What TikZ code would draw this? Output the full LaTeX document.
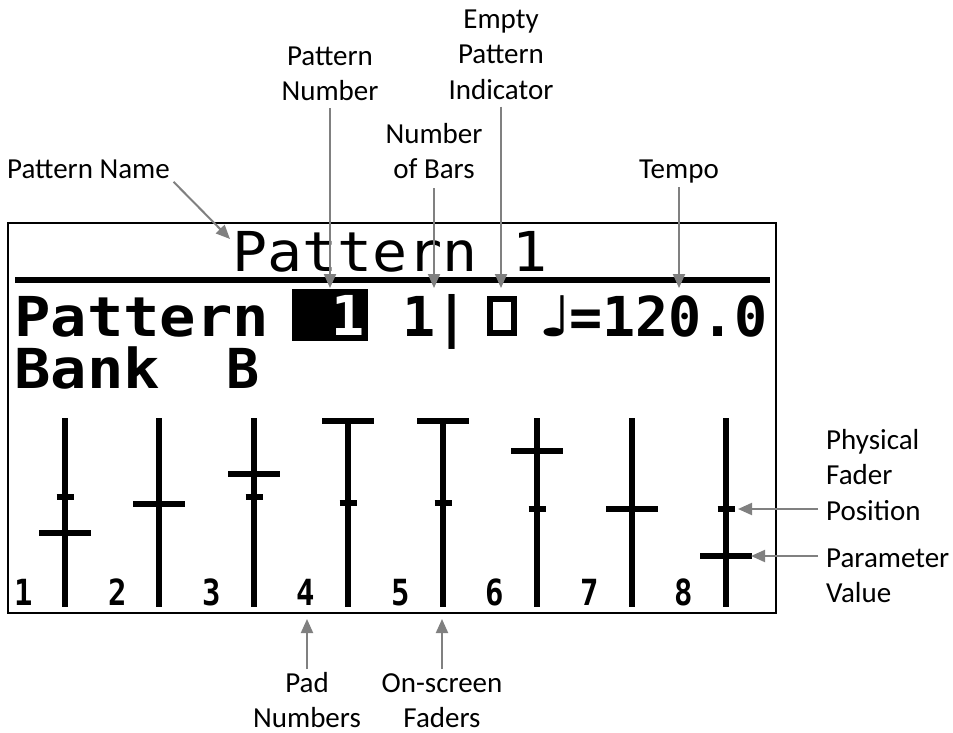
\documentclass[tikz,border=0pt]{standalone}
\usepackage{fontspec}
\setmainfont{Carlito}
\newfontfamily\lcdfont{DejaVu Sans Mono}
\newfontfamily\notefont{DejaVu Sans}
\usetikzlibrary{arrows.meta}
\definecolor{arrgray}{RGB}{128,128,128}
\newcommand{\lblstrut}{\rule{0pt}{24pt}}
\begin{document}
\begin{tikzpicture}[x=1pt,y=-1pt,
  ann/.style={inner sep=0pt, font=\fontsize{29}{35.5}\selectfont, align=center, anchor=north},
  annl/.style={ann, align=left, anchor=north west},
  arr/.style={draw=arrgray, line width=2pt, -{Triangle[length=14pt,width=12pt]}},
  lcdthin/.style={inner sep=0pt, anchor=base west, font=\lcdfont\fontsize{55}{60}\selectfont},
  lcdbold/.style={inner sep=0pt, anchor=base west, font=\lcdfont\bfseries\fontsize{55}{60}\selectfont},
  padnum/.style={inner sep=0pt, anchor=base, font=\lcdfont\bfseries\fontsize{36}{40}\selectfont},
  rail/.style={line width=6pt},
  knob/.style={line width=6pt},
]
\useasboundingbox (0,0) rectangle (953,732);

% display frame
\draw[line width=1.5pt] (8,223) rectangle (776,613);

% title and separator
\node[lcdthin] (title) at (232,271) {\scalebox{1.06}[1]{Pattern 1}};
\draw[line width=6pt] (15,280) -- (770,280);

% second row
\node[lcdbold] (rowpat) at (14,336) {\scalebox{1.1}[1]{Pattern}};
\node[fill=black, inner sep=0pt, minimum width=76pt, minimum height=52pt] (pnbox) at (330,315) {};
\node[lcdbold, anchor=base, text=white] (pnnum) at (348,335) {1};
\node[lcdbold] (bars) at (402,336) {1|};
\node[draw, line width=6pt, inner sep=0pt, minimum width=24pt, minimum height=34pt] (emptyind) at (501.5,315.5) {};
\node[inner sep=0pt, anchor=base west, font=\notefont\fontsize{56}{60}\selectfont] (note) at (537,336) {\scalebox{1.4}[1]{♩}};
\node[lcdbold] (tempo) at (569,336) {=120.0};

% third row
\node[lcdbold] (bank) at (14,388) {\scalebox{1.1}[1]{Bank}};
\node[lcdbold] (bankB) at (226,388) {B};

% faders: x / parameter value y / physical position y
\foreach \fx/\pv/\pp [count=\i] in {65/533/497, 159/504/504, 254/474/497, 348/421/503, 443/421/503, 537/451/509, 632/509/509, 726/556/509}{
  \draw[rail] (\fx,418) -- (\fx,607);
  \draw[knob] (\fx-26,\pv) -- (\fx+26,\pv);
  \draw[knob] (\fx-8.5,\pp) -- (\fx+8.5,\pp);
}
\foreach \cx [count=\i] in {24,118,212,306,401,495,590,684}{
  \node[padnum] (pad\i) at (\cx,605) {\scalebox{0.85}[1]{\i}};
}

% annotation labels
\node[ann] (lblEmpty) at (501,4) {\lblstrut Empty\\Pattern\\Indicator};
\node[ann] (lblPN) at (330,41) {\lblstrut Pattern\\Number};
\node[ann] (lblBars) at (434,119) {\lblstrut Number\\of Bars};
\node[annl] (lblName) at (7,154) {\lblstrut Pattern Name};
\node[ann] (lblTempo) at (679,154) {\lblstrut Tempo};
\node[annl] (lblPhys) at (826,425) {\lblstrut Physical\\Fader\\Position};
\node[annl] (lblParam) at (826,543) {\lblstrut Parameter\\Value};
\node[ann] (lblPad) at (307,668) {\lblstrut Pad\\Numbers};
\node[ann] (lblOS) at (442,668) {\lblstrut On-screen\\Faders};

% arrow tips
\coordinate (tipName) at (230,239);
\coordinate (tipPN) at (330,288);
\coordinate (tipBars) at (434,288);
\coordinate (tipEmpty) at (501,288);
\coordinate (tipTempo) at (679,288);
\coordinate (tipPhys) at (738,509);
\coordinate (tipParam) at (751,556);
\coordinate (tipPad) at (307,619);
\coordinate (tipOS) at (442,619);

\draw[arr, shorten <=5pt] (lblName.base east) -- (tipName);
\draw[arr, shorten <=7pt] (lblPN.south) -- (tipPN);
\draw[arr, shorten <=9pt] (lblBars.south) -- (tipBars);
\draw[arr, shorten <=7pt] (lblEmpty.south) -- (tipEmpty);
\draw[arr, shorten <=9pt] (lblTempo.base) -- (tipTempo);
\draw[arr, shorten <=8pt] (lblPhys.west |- tipPhys) -- (tipPhys);
\draw[arr, shorten <=8pt] (lblParam.west |- tipParam) -- (tipParam);
\draw[arr, shorten <=-1pt] (lblPad.north) -- (tipPad);
\draw[arr, shorten <=-1pt] (lblOS.north) -- (tipOS);
\end{tikzpicture}
\end{document}
